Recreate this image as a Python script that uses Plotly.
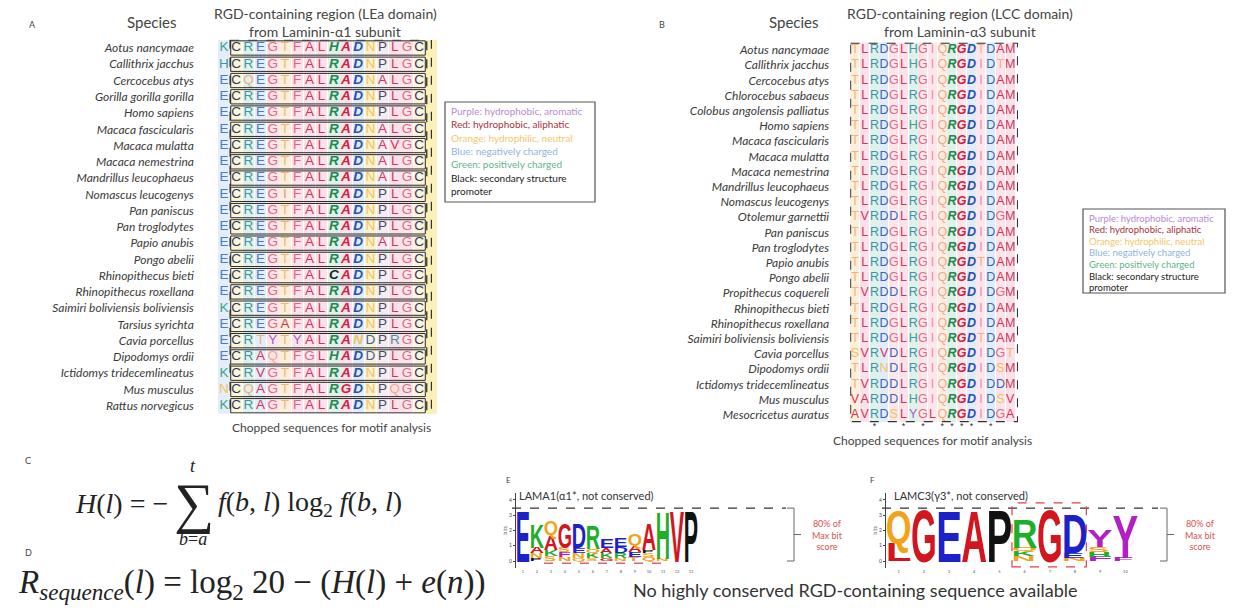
import math
from collections import Counter
import plotly.graph_objects as go

W, H = 1233, 608

# ---------------- Panel A: LEa domain of laminin-α1 ----------------
species_a = [
    "Aotus nancymaae", "Callithrix jacchus", "Cercocebus atys", "Gorilla gorilla gorilla",
    "Homo sapiens", "Macaca fascicularis", "Macaca mulatta", "Macaca nemestrina",
    "Mandrillus leucophaeus", "Nomascus leucogenys", "Pan paniscus", "Pan troglodytes",
    "Papio anubis", "Pongo abelii", "Rhinopithecus bieti", "Rhinopithecus roxellana",
    "Saimiri boliviensis boliviensis", "Tarsius syrichta", "Cavia porcellus",
    "Dipodomys ordii", "Ictidomys tridecemlineatus", "Mus musculus", "Rattus norvegicus",
]
lead_a = ["K", "H", "E", "E", "E", "E", "E", "E", "E", "E", "E", "E",
          "E", "E", "E", "E", "K", "E", "E", "E", "K", "N", "K"]
core_a = [
    "CREGTFALHADNPLGC", "CREGTFALRADNPLGC", "CQEGTFALRADNALGC", "CREGTFALRADNPLGC",
    "CREGTFALRADNPLGC", "CREGTFALRADNALGC", "CREGTFALRADNAVGC", "CREGTFALRADNALGC",
    "CREGTFALRADNALGC", "CREGIFALRADNPLGC", "CREGTFALRADNPLGC", "CREGTFALRADNPLGC",
    "CREGTFALRADNALGC", "CREGTFALRADNPLGC", "CREGTFALCADNPLGC", "CREGTFALRADNPLGC",
    "CREGTFALRADNPLGC", "CREGAFALRADNPLGC", "CRTYTYALRANDPRGC", "CRAQTFGLHADDPLGC",
    "CRVGTFALRADNPLGC", "CQAGTFALRGDNPQGC", "CRAGTFALRADNPLGC",
]

# ---------------- Panel B: LCC domain of laminin-α3 ----------------
species_b = [
    "Aotus nancymaae", "Callithrix jacchus", "Cercocebus atys", "Chlorocebus sabaeus",
    "Colobus angolensis palliatus", "Homo sapiens", "Macaca fascicularis", "Macaca mulatta",
    "Macaca nemestrina", "Mandrillus leucophaeus", "Nomascus leucogenys", "Otolemur garnettii",
    "Pan paniscus", "Pan troglodytes", "Papio anubis", "Pongo abelii",
    "Propithecus coquereli", "Rhinopithecus bieti", "Rhinopithecus roxellana",
    "Saimiri boliviensis boliviensis", "Cavia porcellus", "Dipodomys ordii",
    "Ictidomys tridecemlineatus", "Mus musculus", "Mesocricetus auratus",
]
seq_b = [
    "TLRDGLHGIQRGDTDAM", "TLRDGLHGIQRGDIDTM", "TLRDGLRGIQRGDIDAM", "TLRDGLRGIQRGDIDAM",
    "TLRDGLRGIQRGDIDAM", "TLRDGLHGIQRGDIDAM", "TLRDGLRGIQRGDIDAM", "TLRDGLRGIQRGDIDAM",
    "TLRDGLRGIQRGDIDAM", "TLRDGLRGIQRGDIDAM", "TLRDGLRGIQRGDIDAM", "TVRDDLRGIQRGDIDGM",
    "TLRDGLRGIQRGDIDAM", "TLRDGLRGIQRGDIDAM", "TLRDGLRGIQRGDTDAM", "TLRDGLRGIQRGDIDAM",
    "TVRDDLRGIQRGDIDGM", "TLRDGLRGIQRGDIDAM", "TLRDGLRGIQRGDIDAM", "TLRDGLHGIQRGDTDAM",
    "SVRVDLRGIQRGDIDGT", "TLRNDLRGIQRGDIDSM", "TVRDDLRGIQRGDIDDM", "VARDDLHGIQRGDIDSV",
    "AVRDSLYGLQRGDIDGA",
]

# ---------------- Panels E/F: sequence logos (bits, bottom -> top) ----------------
logo_e_letters = ["E", "PNAK", "SKAQ", "NFSG", "QNED", "SKQR", "GKAE", "NRDE",
                  "TEAQ", "QSPA", "NH", "V", "P"]
logo_e_bits = [[3.40], [0.20, 0.30, 0.40, 1.60], [0.30, 0.45, 0.95, 1.00],
               [0.25, 0.35, 0.30, 1.70], [0.20, 0.30, 0.35, 1.70], [0.20, 0.30, 0.30, 1.60],
               [0.20, 0.30, 0.35, 0.65], [0.20, 0.30, 0.40, 0.60], [0.25, 0.35, 0.40, 0.75],
               [0.30, 0.25, 0.20, 1.75], [0.20, 3.15], [3.45], [3.40]]
logo_f_letters = ["LQ", "G", "E", "A", "P", "NKQR", "G", "NED", "FHSY", "FY"]
logo_f_bits = [[1.20, 2.20], [3.45], [3.40], [3.40], [3.45], [0.30, 0.35, 0.25, 1.90],
               [3.45], [0.25, 0.30, 2.60], [0.30, 0.30, 0.30, 1.10], [0.25, 2.85]]
MAX_BITS = math.log2(20)
CUTOFF = 0.8 * MAX_BITS

legend_lines = ["Purple: hydrophobic, aromatic", "Red: hydrophobic, aliphatic",
                "Orange: hydrophilic, neutral", "Blue: negatively charged",
                "Green: positively charged", "Black: secondary structure", "promoter"]

# ---------------- styles ----------------
RES = {
    'A': '#d6335a', 'V': '#d6335a', 'L': '#c8385e', 'I': '#ee8aa2', 'M': '#c8385e',
    'F': '#e8607f', 'W': '#a65cc8', 'Y': '#a65cc8',
    'N': '#f0c35a', 'Q': '#f2a988', 'S': '#f0c35a', 'T': '#f2b47a',
    'C': '#2c3566', 'D': '#3566b5', 'E': '#4a7cc4',
    'K': '#35a58c', 'R': '#3f93a8', 'H': '#3a9a9a',
    'G': '#de6b86', 'P': '#4a4a5a',
}
RES_BOLD = {'R': '#21894f', 'H': '#21894f', 'G': '#d0213f', 'A': '#d0213f',
            'D': '#2750ae', 'C': '#1a1a1a'}
TINT = {
    'A': '#fde3ea', 'V': '#fde3ea', 'L': '#fbe1e9', 'I': '#fde6ec', 'M': '#fbe1e9',
    'F': '#fbe3ec', 'W': '#f1e4f7', 'Y': '#f1e4f7',
    'N': '#fdf2cf', 'Q': '#fdeee2', 'S': '#fdf2cf', 'T': '#fdefd9',
    'C': '#fcf5d6', 'D': '#e2ecf8', 'E': '#e4edf8',
    'K': '#def3ea', 'R': '#dff2ea', 'H': '#dff2ee',
    'G': '#fde6ea', 'P': '#f3ecf3',
}
LOGO = {'D': '#1c22c8', 'E': '#1c22c8', 'K': '#1fae2a', 'R': '#1fae2a', 'H': '#1fae2a',
        'A': '#d4151e', 'V': '#d4151e', 'L': '#d4151e', 'I': '#d4151e', 'M': '#d4151e',
        'G': '#d4151e', 'P': '#111111', 'Q': '#f2a31a', 'N': '#f2a31a', 'S': '#f2a31a',
        'T': '#f2a31a', 'F': '#b21fc4', 'Y': '#b21fc4', 'W': '#b21fc4', 'C': '#f2a31a'}
LEGEND_COLORS = ['#b98ad0', '#a8323c', '#f0c96a', '#8fb3e0', '#62b48c', '#222222', '#222222']

TXT = "Lato"
SEQ_FONT = "Liberation Sans"
MATH = "Liberation Serif"

# pixel geometry of the two alignments: centre of column c / row r
A_X0, A_DX, A_Y0, A_DY = 224.0, 12.2, 48.0, 16.26
B_X0, B_DX, B_Y0, B_DY = 855.0, 9.7, 50.0, 15.2
# logo geometry: baseline and pixels per bit
L_BASE, L_PPB = 561.0, 15.3


def dom_x(a, b):
    return [a / W, b / W]


def dom_y(top, bottom):
    return [1 - bottom / H, 1 - top / H]


def px(x):
    return x / W


def py(y):
    return 1 - y / H


fig = go.Figure()
shapes, notes = [], []


def note(text, x, y, size, color="#333", family=TXT, xanchor="center",
         xref="paper", yref="paper", **kw):
    notes.append(dict(text=text, x=x, y=y, xref=xref, yref=yref, showarrow=False,
                      xanchor=xanchor, yanchor="middle",
                      font=dict(family=family, size=size, color=color), **kw))


def add_alignment(rows, xa, ya, bold_cols, font_size, extra_tint=None):
    cons = [Counter(col).most_common(1)[0][0] for col in zip(*rows)]
    cols = list(range(len(cons)))
    tints = [TINT[c] for c in cons]
    if extra_tint:
        cols.append(len(cons))
        tints.append(extra_tint)
    fig.add_trace(go.Bar(x=cols, y=[len(rows)] * len(cols), base=-0.5, width=0.92,
                         marker=dict(color=tints, line=dict(width=0)),
                         xaxis=xa, yaxis=ya, hoverinfo="skip", showlegend=False))
    xs, ys, tx, colors = [], [], [], []
    for r, seq in enumerate(rows):
        for c, ch in enumerate(seq):
            xs.append(c)
            ys.append(r)
            if c in bold_cols:
                tx.append("<b><i>%s</i></b>" % ch)
                colors.append(RES_BOLD.get(ch, RES[ch]))
            else:
                tx.append(ch)
                colors.append(RES[ch])
    fig.add_trace(go.Scatter(x=xs, y=ys, mode="text", text=tx,
                             textfont=dict(family=SEQ_FONT, size=font_size, color=colors),
                             xaxis=xa, yaxis=ya, hoverinfo="skip", showlegend=False,
                             cliponaxis=False))
    return cons


# ---- Panel A alignment (x / y) ----
rows_a = [l + s for l, s in zip(lead_a, core_a)]
n_a = len(rows_a)
add_alignment(rows_a, "x", "y", {9, 10, 11}, 13.5, extra_tint="#fbf1b8")
for r in range(n_a):
    shapes.append(dict(type="rect", xref="x", yref="y", x0=0.55, x1=16.5,
                       y0=r - 0.44, y1=r + 0.44, line=dict(color="#2a2a2a", width=1)))
shapes.append(dict(type="rect", xref="x", yref="y", x0=0.5, x1=16.62, y0=-0.5,
                   y1=n_a - 0.45, line=dict(color="#222", width=1.2, dash="dash")))
shapes.append(dict(type="line", xref="x", yref="y", x0=17.0, x1=17.0, y0=-0.5,
                   y1=n_a - 0.5, line=dict(color="#333", width=1.2, dash="dash")))

# ---- Panel B alignment (x2 / y2) ----
n_b = len(seq_b)
add_alignment(seq_b, "x2", "y2", {10, 11, 12}, 12.5)
shapes.append(dict(type="rect", xref="x2", yref="y2", x0=-0.45, x1=16.75, y0=-0.45,
                   y1=n_b - 0.55, line=dict(color="#333", width=1.1, dash="dash")))
conserved = [c for c, col in enumerate(zip(*seq_b)) if len(set(col)) == 1]
fig.add_trace(go.Scatter(x=conserved, y=[n_b - 0.2] * len(conserved), mode="text",
                         text=["*"] * len(conserved),
                         textfont=dict(family=SEQ_FONT, size=9, color="#333"),
                         xaxis="x2", yaxis="y2", hoverinfo="skip", showlegend=False,
                         cliponaxis=False))


# ---- Logos (x3/y3 and x4/y4) ----
def add_logo(letters, bits, xa, ya, name, px_per_col):
    xs, ys, tx, colors, sizes, cdat = [], [], [], [], [], []
    for i, (stack, hts) in enumerate(zip(letters, bits)):
        base = 0.0
        for ch, h in zip(stack, hts):
            xs.append(i + 1)
            ys.append(base + h / 2)
            tx.append(ch)
            colors.append(LOGO[ch])
            sizes.append(max(5, min(px_per_col / 0.72, h * L_PPB / 0.716)))
            cdat.append([base, h])
            base += h
    fig.add_trace(go.Scatter(x=xs, y=ys, mode="text", text=tx, name=name, customdata=cdat,
                             textfont=dict(family=SEQ_FONT, size=sizes, color=colors,
                                           weight="bold"),
                             xaxis=xa, yaxis=ya, hoverinfo="skip", showlegend=False,
                             cliponaxis=False))


E_X0, E_X1 = 516, 698
F_X0, F_X1 = 886, 1138
add_logo(logo_e_letters, logo_e_bits, "x3", "y3", "logoE", (E_X1 - E_X0) / 13)
add_logo(logo_f_letters, logo_f_bits, "x4", "y4", "logoF", (F_X1 - F_X0) / 10)

for ya, x0, x1, bx in (("y3", 512, 786, 787), ("y4", 882, 1158, 1160)):
    shapes.append(dict(type="line", xref="paper", yref=ya, x0=px(x0), x1=px(x1),
                       y0=CUTOFF, y1=CUTOFF, line=dict(color="#333", width=1.1, dash="dash")))
    path = "M %f,%f L %f,%f L %f,%f L %f,%f M %f,%f L %f,%f" % (
        px(bx), CUTOFF, px(bx + 7), CUTOFF, px(bx + 7), 0, px(bx), 0,
        px(bx + 7), CUTOFF / 2, px(bx + 14), CUTOFF / 2)
    shapes.append(dict(type="path", xref="paper", yref=ya, path=path,
                       line=dict(color="#666", width=1)))
    note("80% of<br>Max bit<br>score", px(bx + 40), CUTOFF / 2, 9, color="#d9534f",
         yref=ya)

# red dashed outlines marking the RGD-like region
shapes.append(dict(type="rect", xref="x4", yref="y4", x0=5.5, x1=8.45, y0=-0.38, y1=3.8,
                   line=dict(color="#e0404a", width=1.2, dash="dash")))
shapes.append(dict(type="line", xref="x3", yref="y3", x0=2.5, x1=11.5, y0=-0.15, y1=-0.15,
                   line=dict(color="#e0607a", width=1.4, dash="dash")))

# ---- static texts ----
note("A", px(32), py(24), 9, color="#444")
note("Species", px(151), py(22), 15, color="#444")
note("RGD-containing region (LEa domain)", px(325), py(13), 14, color="#444")
note("from Laminin-α1 subunit", px(325), py(31), 14, color="#444")
note("Chopped sequences for motif analysis", px(331), py(427), 12, color="#444")

note("B", px(662), py(24), 9, color="#444")
note("Species", px(793), py(22), 15, color="#444")
note("RGD-containing region (LCC domain)", px(960), py(13), 14, color="#444")
note("from Laminin-α3 subunit", px(960), py(31), 14, color="#444")
note("Chopped sequences for motif analysis", px(932), py(440), 12, color="#444")

for (bx0, by0, bx1, by1, step, fs) in ((445, 102, 595, 202, 13.3, 10),
                                       (1083, 209, 1225, 293, 11.6, 9.5)):
    shapes.append(dict(type="rect", xref="paper", yref="paper", x0=px(bx0), x1=px(bx1),
                       y0=py(by1), y1=py(by0), line=dict(color="#555", width=1.2)))
    for i, (line, col) in enumerate(zip(legend_lines, LEGEND_COLORS)):
        note(line, px(bx0 + 4), py(by0 + 9 + step * i), fs, color=col, xanchor="left")

note("C", px(28), py(460), 9, color="#444")
note("<i>H</i>(<i>l</i>) = −", px(73), py(503), 28, color="#222", family=MATH, xanchor="left")
note("∑", px(194), py(503), 56, color="#222", family=MATH)
note("<i>t</i>", px(193), py(466), 18, color="#222", family=MATH)
note("<i>b</i>=<i>a</i>", px(193), py(539), 18, color="#222", family=MATH)
note("<i>f</i>(<i>b</i>, <i>l</i>) log<sub>2</sub> <i>f</i>(<i>b</i>, <i>l</i>)",
     px(216), py(503), 28, color="#222", family=MATH, xanchor="left")

note("D", px(28), py(552), 9, color="#444")
note("<i>R</i><sub><i>sequence</i></sub>(<i>l</i>) = log<sub>2</sub> 20 − "
     "(<i>H</i>(<i>l</i>) + <i>e</i>(<i>n</i>))",
     px(16), py(584), 33, color="#222", family=MATH, xanchor="left")

note("E", px(508), py(480), 8, color="#444")
note("LAMA1(α1*, not conserved)", px(517), py(495), 11, color="#333", xanchor="left")
note("F", px(872), py(480), 8, color="#444")
note("LAMC3(γ3*, not conserved)", px(892), py(495), 11, color="#333", xanchor="left")
note("No highly conserved RGD-containing sequence available", px(855), py(590), 18,
     color="#333")

# ---------------- axes ----------------
hidden = dict(showgrid=False, zeroline=False, showticklabels=False, ticks="", showline=False,
              fixedrange=True)
species_font = dict(family=TXT, size=12, color="#3a3a3a", style="italic")
layout_axes = dict(
    xaxis=dict(hidden, domain=dom_x(A_X0 - 0.5 * A_DX, A_X0 + 17.5 * A_DX),
               range=[-0.5, 17.5], anchor="y"),
    yaxis=dict(hidden, domain=dom_y(A_Y0 - 0.5 * A_DY, A_Y0 + (n_a - 0.5) * A_DY),
               range=[n_a - 0.5, -0.5], anchor="x", showticklabels=True,
               tickmode="array", tickvals=list(range(n_a)), ticktext=species_a,
               tickfont=species_font, ticklabelstandoff=23),
    xaxis2=dict(hidden, domain=dom_x(B_X0 - 0.5 * B_DX, B_X0 + 17.0 * B_DX),
                range=[-0.5, 17.0], anchor="y2"),
    yaxis2=dict(hidden, domain=dom_y(B_Y0 - 0.5 * B_DY, B_Y0 + (n_b + 0.6) * B_DY),
                range=[n_b + 0.6, -0.5], anchor="x2", showticklabels=True,
                tickmode="array", tickvals=list(range(n_b)), ticktext=species_b,
                tickfont=species_font, ticklabelstandoff=20),
)
logo_y = dict(showgrid=False, zeroline=False, showline=True, linecolor="#444", linewidth=1,
              ticks="outside", ticklen=2, tickcolor="#444", tickvals=[0, 1, 2, 3, 4],
              tickfont=dict(family=TXT, size=5, color="#444"), range=[-0.45, 4.45],
              domain=dom_y(L_BASE - 4.45 * L_PPB, L_BASE + 0.45 * L_PPB), fixedrange=True,
              title=dict(text="bits", font=dict(size=5, color="#444"), standoff=1))
logo_x = dict(showgrid=False, zeroline=False, showline=False, ticks="",
              tickfont=dict(family=TXT, size=4, color="#555"), fixedrange=True)
layout_axes.update(
    xaxis3=dict(logo_x, domain=dom_x(E_X0, E_X1), range=[0.5, 13.5], anchor="y3",
                tickvals=list(range(1, 14))),
    yaxis3=dict(logo_y, anchor="x3"),
    xaxis4=dict(logo_x, domain=dom_x(F_X0, F_X1), range=[0.5, 10.5], anchor="y4",
                tickvals=list(range(1, 11))),
    yaxis4=dict(logo_y, anchor="x4"),
)

fig.update_layout(
    width=W, height=H, margin=dict(l=0, r=0, t=0, b=0, pad=0),
    paper_bgcolor="white", plot_bgcolor="rgba(0,0,0,0)", showlegend=False,
    hovermode=False, bargap=0, shapes=shapes, annotations=notes, **layout_axes,
)

# Stretch every logo glyph so that it fills its column width and its bit height.
STRETCH_JS = """
(function(){
  var gd = document.getElementById('{plot_id}');
  function stretchLogos(){
    var fl = gd._fullLayout;
    var groups = gd.querySelectorAll('g.trace');
    for (var gi = 0; gi < groups.length; gi++) {
      var g = groups[gi];
      var cd = g.__data__;
      if (!cd || !cd[0] || !cd[0].trace) continue;
      var tr = cd[0].trace;
      if (!tr.name || tr.name.indexOf('logo') !== 0) continue;
      var xa = fl['xaxis' + tr.xaxis.slice(1)];
      var ya = fl['yaxis' + tr.yaxis.slice(1)];
      var pts = g.querySelectorAll('g.textpoint');
      for (var k = 0; k < pts.length; k++) {
        var p = pts[k];
        var t = p.querySelector('text');
        if (!t) continue;
        var dat = tr.customdata[k];
        var xc = tr.x[k], base = dat[0], h = dat[1];
        p.removeAttribute('transform');
        t.removeAttribute('transform');
        var b = t.getBBox();
        if (!b.width || !b.height) continue;
        var inkL = b.x + 0.05 * b.width, inkW = 0.90 * b.width;
        var inkT = b.y + 0.169 * b.height, inkH = 0.641 * b.height;
        var X0 = xa.c2p(xc - 0.46), X1 = xa.c2p(xc + 0.46);
        var Yt = ya.c2p(base + h), Yb = ya.c2p(base);
        var sx = (X1 - X0) / inkW, sy = (Yb - Yt) / inkH;
        t.setAttribute('transform', 'matrix(' + sx + ',0,0,' + sy + ',' +
                       (X0 - sx * inkL) + ',' + (Yt - sy * inkT) + ')');
      }
    }
  }
  stretchLogos();
  if (document.fonts && document.fonts.ready) { document.fonts.ready.then(stretchLogos); }
})();
"""

fig.write_html("out.html", post_script=STRETCH_JS)
